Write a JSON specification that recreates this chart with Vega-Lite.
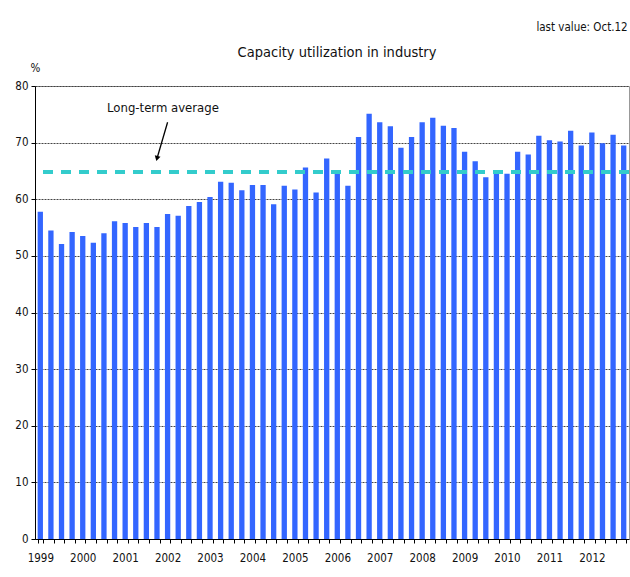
{
  "$schema": "https://vega.github.io/schema/vega-lite/v6.json",
  "width": 594,
  "height": 453,
  "autosize": "none",
  "padding": {"left": 35, "top": 86, "right": 1, "bottom": 38},
  "background": "white",
  "config": {
    "font": "Liberation Sans Narrow, DejaVu Sans Condensed, sans-serif",
    "view": {"stroke": "#999999", "strokeWidth": 1},
    "axis": {"labelFont": "Liberation Sans Narrow, DejaVu Sans Condensed, sans-serif", "labelColor": "#111111", "labelFontSize": 11.5, "domainColor": "#000000", "tickColor": "#000000"}
  },
  "title": {
    "text": "Capacity utilization in industry",
    "fontSize": 14.5,
    "fontWeight": "normal",
    "color": "#111111",
    "anchor": "middle",
    "frame": "group",
    "offset": -38,
    "dx": 5
  },
  "datasets": {
    "cu": [
      {"q": "1999Q1", "v": 57.8}, {"q": "1999Q2", "v": 54.5}, {"q": "1999Q3", "v": 52.1}, {"q": "1999Q4", "v": 54.2},
      {"q": "2000Q1", "v": 53.5}, {"q": "2000Q2", "v": 52.3}, {"q": "2000Q3", "v": 54.0}, {"q": "2000Q4", "v": 56.1},
      {"q": "2001Q1", "v": 55.8}, {"q": "2001Q2", "v": 55.1}, {"q": "2001Q3", "v": 55.8}, {"q": "2001Q4", "v": 55.1},
      {"q": "2002Q1", "v": 57.4}, {"q": "2002Q2", "v": 57.1}, {"q": "2002Q3", "v": 58.8}, {"q": "2002Q4", "v": 59.5},
      {"q": "2003Q1", "v": 60.4}, {"q": "2003Q2", "v": 63.1}, {"q": "2003Q3", "v": 62.9}, {"q": "2003Q4", "v": 61.6},
      {"q": "2004Q1", "v": 62.5}, {"q": "2004Q2", "v": 62.5}, {"q": "2004Q3", "v": 59.1}, {"q": "2004Q4", "v": 62.4},
      {"q": "2005Q1", "v": 61.7}, {"q": "2005Q2", "v": 65.6}, {"q": "2005Q3", "v": 61.2}, {"q": "2005Q4", "v": 67.2},
      {"q": "2006Q1", "v": 64.5}, {"q": "2006Q2", "v": 62.4}, {"q": "2006Q3", "v": 71.0}, {"q": "2006Q4", "v": 75.1},
      {"q": "2007Q1", "v": 73.6}, {"q": "2007Q2", "v": 72.9}, {"q": "2007Q3", "v": 69.1}, {"q": "2007Q4", "v": 71.0},
      {"q": "2008Q1", "v": 73.6}, {"q": "2008Q2", "v": 74.4}, {"q": "2008Q3", "v": 73.0}, {"q": "2008Q4", "v": 72.6},
      {"q": "2009Q1", "v": 68.4}, {"q": "2009Q2", "v": 66.7}, {"q": "2009Q3", "v": 63.9}, {"q": "2009Q4", "v": 65.1},
      {"q": "2010Q1", "v": 64.5}, {"q": "2010Q2", "v": 68.4}, {"q": "2010Q3", "v": 67.9}, {"q": "2010Q4", "v": 71.2},
      {"q": "2011Q1", "v": 70.4}, {"q": "2011Q2", "v": 70.2}, {"q": "2011Q3", "v": 72.1}, {"q": "2011Q4", "v": 69.5},
      {"q": "2012Q1", "v": 71.8}, {"q": "2012Q2", "v": 69.9}, {"q": "2012Q3", "v": 71.4}, {"q": "2012Q4", "v": 69.5}
    ],
    "notes": [
      {"label": "Long-term average", "avg": 64.8, "lx": "2001Q4", "ly": 76.2, "ax": "2002Q1", "ay": 73.6, "bx": "2001Q4", "by": 67.2, "last": "last value: Oct.12", "tx": "2012Q4", "ty": 90.2}
    ]
  },
  "layer": [
    {
      "data": {"name": "cu"},
      "mark": {"type": "bar", "color": "#3366FF"},
      "encoding": {
        "x": {
          "field": "q",
          "type": "ordinal",
          "sort": null,
          "scale": {"type": "band", "paddingInner": 0.5, "paddingOuter": 0.25},
          "axis": {
            "title": null,
            "labelAngle": 0,
            "labelOverlap": false,
            "labelExpr": "isString(datum.value) && indexof(datum.value, 'Q1') > 0 ? slice(datum.value, 0, 4) : ''",
            "tickBand": "extent",
            "tickSize": 4,
            "labelPadding": 9,
            "grid": false
          }
        },
        "y": {
          "field": "v",
          "type": "quantitative",
          "scale": {"domain": [0, 80], "nice": false},
          "axis": {
            "title": "%",
            "titleAngle": 0,
            "titleFontSize": 11.5,
            "titleFontWeight": "normal",
            "titleColor": "#111111",
            "titleX": 0,
            "titleY": -15,
            "titleAlign": "center",
            "titleBaseline": "alphabetic",
            "values": [0, 10, 20, 30, 40, 50, 60, 70, 80],
            "tickSize": 4,
            "labelPadding": 3,
            "grid": true,
            "gridColor": "#444444",
            "gridDash": [2, 1],
            "gridWidth": 1
          }
        }
      }
    },
    {
      "data": {"name": "notes"},
      "mark": {"type": "rule", "color": "#33CCCC", "strokeWidth": 4, "strokeDash": [10, 8]},
      "encoding": {"y": {"field": "avg", "type": "quantitative"}}
    },
    {
      "data": {"name": "notes"},
      "mark": {"type": "text", "fontSize": 13, "color": "#111111", "align": "center", "baseline": "middle", "dx": 6},
      "encoding": {
        "x": {"field": "lx", "type": "ordinal", "sort": null},
        "y": {"field": "ly", "type": "quantitative"},
        "text": {"field": "label"}
      }
    },
    {
      "data": {"name": "notes"},
      "mark": {"type": "rule", "color": "#000000", "strokeWidth": 1.3},
      "encoding": {
        "x": {"field": "ax", "type": "ordinal", "sort": null},
        "x2": {"field": "bx"},
        "y": {"field": "ay", "type": "quantitative"},
        "y2": {"field": "by"}
      }
    },
    {
      "data": {"name": "notes"},
      "mark": {"type": "point", "shape": "triangle-down", "filled": true, "color": "#000000", "size": 35, "angle": 15, "opacity": 1},
      "encoding": {
        "x": {"field": "bx", "type": "ordinal", "sort": null},
        "y": {"field": "by", "type": "quantitative"}
      }
    },
    {
      "data": {"name": "notes"},
      "mark": {"type": "text", "fontSize": 11.5, "color": "#111111", "align": "right", "baseline": "middle", "dx": 4},
      "encoding": {
        "x": {"field": "tx", "type": "ordinal", "sort": null},
        "y": {"field": "ty", "type": "quantitative"},
        "text": {"field": "last"}
      }
    }
  ]
}
